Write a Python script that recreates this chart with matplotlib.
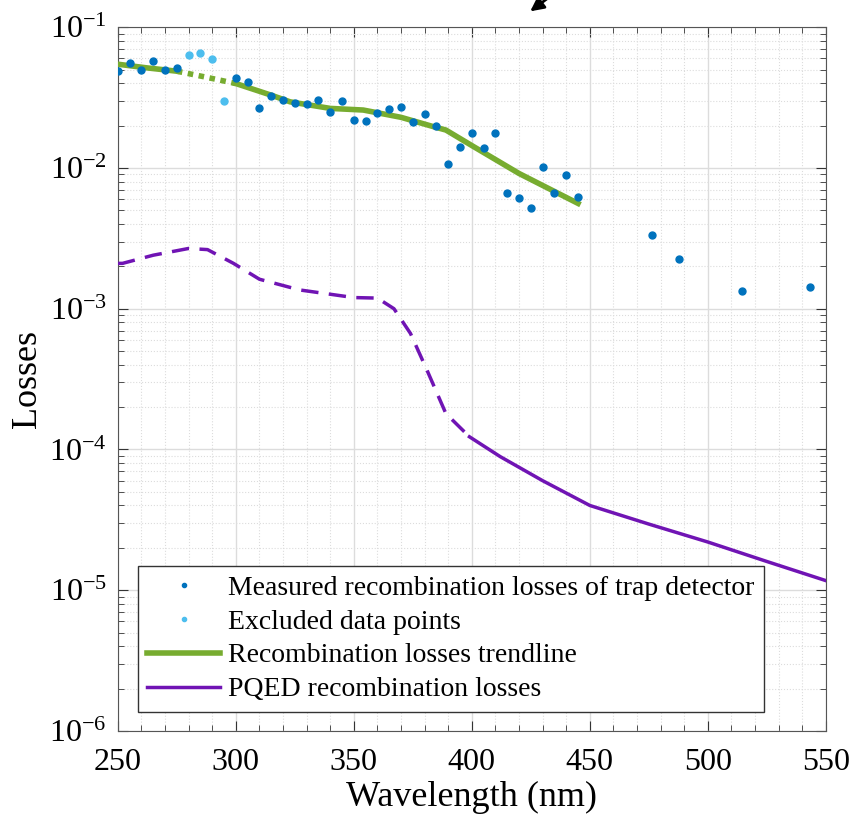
import numpy as np
import matplotlib.pyplot as plt
from matplotlib.ticker import LogLocator, MultipleLocator, NullFormatter

plt.rcParams['font.family'] = ['Liberation Serif', 'DejaVu Serif']
plt.rcParams['mathtext.fontset'] = 'custom'
plt.rcParams['mathtext.rm'] = 'Liberation Serif'

# measured trap detector losses
meas_wl = [250, 255, 260, 265, 270, 275, 300, 305, 310, 315, 320, 325, 330, 335, 340, 345,
           350, 355, 360, 365, 370, 375, 380, 385, 390, 395, 400, 405, 410, 415, 420, 425,
           430, 435, 440, 445, 476.3, 487.8, 514.3, 543.1]
meas_loss = [0.049, 0.056, 0.0497, 0.0577, 0.0497, 0.0514, 0.0436, 0.0411, 0.0266, 0.0323,
             0.0302, 0.0289, 0.0284, 0.0305, 0.0249, 0.0298, 0.022, 0.0215, 0.0246, 0.0263,
             0.027, 0.0213, 0.024, 0.020, 0.0106, 0.014, 0.0176, 0.0139, 0.0176, 0.00662,
             0.00614, 0.00519, 0.0101, 0.00662, 0.0089, 0.00617, 0.00332, 0.00224, 0.00133, 0.00142]

# excluded points
excl_wl = [280, 285, 290, 295]
excl_loss = [0.063, 0.066, 0.059, 0.0298]

# trendline
trend_wl = [250, 262, 275, 287, 300, 315, 323, 340, 354, 370, 384, 389, 401, 420, 445]
trend_loss = [0.0546, 0.0515, 0.0487, 0.0443, 0.0398, 0.0329, 0.0295, 0.0265, 0.0258,
              0.0229, 0.0196, 0.0186, 0.0141, 0.00914, 0.0056]

# PQED recombination losses
pqed_wl = [250, 252, 265, 280, 288, 299, 310, 327, 350, 360, 367, 374, 381, 389, 399,
           412, 430, 450, 475, 500, 525, 550]
pqed_loss = [0.0021, 0.0021, 0.0024, 0.00268, 0.00263, 0.0021, 0.00162, 0.00136, 0.0012,
             0.00119, 0.001, 0.000667, 0.000366, 0.00018, 0.000123, 8.9e-5, 6.0e-5, 4.0e-5,
             2.95e-5, 2.2e-5, 1.6e-5, 1.17e-5]

c_meas = '#0072BD'
c_excl = '#4DBEEE'
c_trend = '#77AC30'
c_pqed = '#7014B4'

fig = plt.figure(figsize=(8.54, 8.25), dpi=100)
ax = fig.add_axes([0.138, 0.114, 0.829, 0.853])

tw = np.array(trend_wl)
tl = np.array(trend_loss)
m1 = tw <= 275
m2 = (tw >= 275) & (tw <= 300)
m3 = tw >= 300
ax.plot(tw[m1], tl[m1], color=c_trend, lw=4, zorder=3)
ax.plot(tw[m2], tl[m2], color=c_trend, lw=4, ls=(0, (1, 1)), zorder=3)
ax.plot(tw[m3], tl[m3], color=c_trend, lw=4, zorder=3, label='Recombination losses trendline')

pw = np.array(pqed_wl)
pl = np.array(pqed_loss)
d = pw <= 399
s = pw >= 399
ax.plot(pw[d], pl[d], color=c_pqed, lw=2.5, ls=(0, (5, 3)), zorder=3)
ax.plot(pw[s], pl[s], color=c_pqed, lw=2.5, zorder=3, label='PQED recombination losses')

ax.plot(meas_wl, meas_loss, 'o', color=c_meas, ms=5, ls='none', zorder=4,
        label='Measured recombination losses of trap detector')
ax.plot(excl_wl, excl_loss, 'o', color=c_excl, ms=5, ls='none', zorder=4,
        label='Excluded data points')

ax.set_yscale('log')
ax.set_xlim(250, 550)
ax.set_ylim(1e-6, 1e-1)
ax.xaxis.set_major_locator(MultipleLocator(50))
ax.xaxis.set_minor_locator(MultipleLocator(10))
ax.yaxis.set_major_locator(LogLocator(base=10, numticks=10))
ax.yaxis.set_minor_locator(LogLocator(base=10, subs=np.arange(2, 10), numticks=20))
ax.yaxis.set_minor_formatter(NullFormatter())
ax.grid(True, which='major', color='#dcdcdc', lw=1)
ax.grid(True, which='minor', color='#dcdcdc', lw=0.8, ls=':')
ax.set_axisbelow(True)
ax.tick_params(which='both', direction='in', top=True, right=True, labelsize=23, color='#333333')
ax.tick_params(axis='x', which='major', pad=12)
ax.tick_params(axis='y', which='major', pad=8)
ax.tick_params(which='major', length=7)
ax.tick_params(which='minor', length=4)
for sp in ax.spines.values():
    sp.set_color('#555555')

ax.set_xlabel('Wavelength (nm)', fontsize=26, labelpad=3)
ax.set_ylabel('Losses', fontsize=26, labelpad=4)

h, l = ax.get_legend_handles_labels()
order = [2, 3, 0, 1]
leg = ax.legend([h[i] for i in order], [l[i] for i in order], loc='lower left',
                bbox_to_anchor=(0.028, 0.027), fontsize=20, frameon=True, fancybox=False,
                edgecolor='#333333', framealpha=1, handlelength=2.6, handletextpad=0.3,
                labelspacing=0.3, borderpad=0.35, markerscale=0.6, borderaxespad=0)
leg.get_frame().set_linewidth(1)

ax.annotate('', xy=(528, 812), xycoords='figure pixels', xytext=(552, 830),
            textcoords='figure pixels',
            arrowprops=dict(arrowstyle='-|>', color='black', lw=2, mutation_scale=20),
            annotation_clip=False)
fig.savefig('out.png', dpi=100)
